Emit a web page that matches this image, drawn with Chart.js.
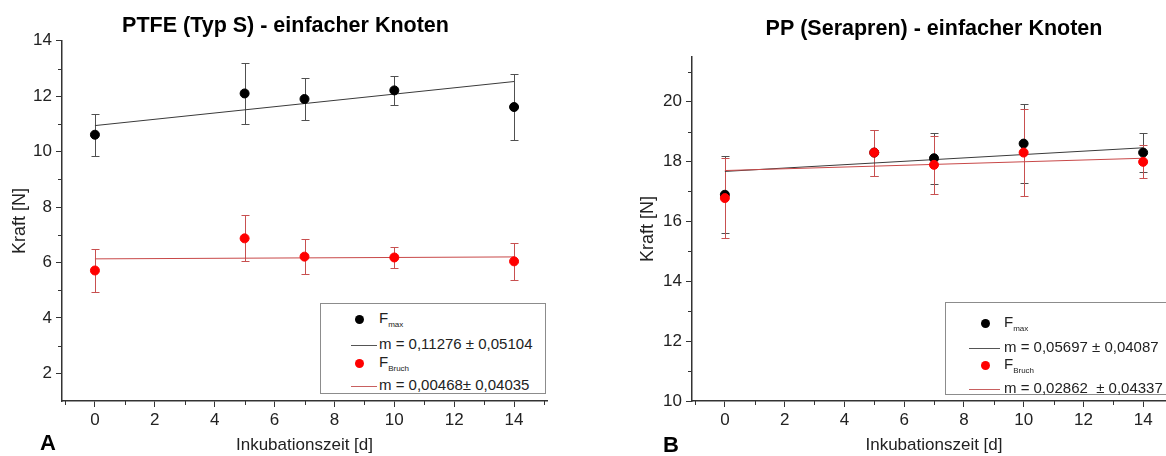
<!DOCTYPE html>
<html>
<head>
<meta charset="utf-8">
<title>Kraft vs Inkubationszeit</title>
<script src="https://cdn.jsdelivr.net/npm/chart.js@4.4.1/dist/chart.umd.min.js"></script>
<style>
html, body { margin: 0; padding: 0; overflow: hidden; background: #fff; }
body { width: 1166px; height: 456px; position: relative; font-family: Arial, "Liberation Sans", sans-serif; color: #222; }
.wrap { position: absolute; top: 0; height: 456px; }
.legend { position: absolute; border: 1px solid #8c8c8c; background: #fff; box-sizing: border-box; }
.legend .dot { position: absolute; width: 9px; height: 9px; border-radius: 50%; }
.legend .ln { position: absolute; height: 0; border-top: 1px solid; }
.legend .txt { position: absolute; font-size: 15px; line-height: 18px; white-space: nowrap; }
.legend sub { font-size: 8px; vertical-align: -4px; }
.panel { position: absolute; font-weight: bold; font-size: 22px; line-height: 24px; color: #000; }
</style>
</head>
<body>

<div class="wrap" style="left:0; width:571px;"><canvas id="chartA" width="571" height="456"></canvas></div>
<div class="wrap" style="left:590px; width:686px;"><canvas id="chartB" width="686" height="456"></canvas></div>

<div class="panel" style="left:40px; top:431px;">A</div>
<div class="panel" style="left:663px; top:433px;">B</div>

<script>
// x values (days) and ticks, shared by both panels
const days = [0, 5, 7, 10, 14]
const fitDays = [0, 14]
const xTickLabels = [0, 2, 4, 6, 8, 10, 12, 14]
const xMinorTicks = [-1, 1, 3, 5, 7, 9, 11, 13, 15]

// A: PTFE (Typ S)
const ptfeMax = [10.61, 12.10, 11.90, 12.21, 11.61]
const ptfeMaxErr = [0.76, 1.10, 0.75, 0.52, 1.20]
const ptfeBruch = [5.71, 6.87, 6.21, 6.18, 6.04]
const ptfeBruchErr = [0.79, 0.83, 0.62, 0.39, 0.68]
const ptfeMaxFit = [10.94, 12.53]
const ptfeBruchFit = [6.13, 6.20]
const ptfeYTicks = [2, 4, 6, 8, 10, 12, 14]
const ptfeYMinor = [3, 5, 7, 9, 11, 13]
const ptfeLegend = ['m = 0,11276 \u00b1 0,05104', 'm = 0,00468\u00b1 0,04035']

// B: PP (Serapren)
const ppMax = [16.89, 18.30, 18.11, 18.60, 18.30]
const ppMaxErr = [1.28, 0.77, 0.86, 1.31, 0.64]
const ppBruch = [16.78, 18.30, 17.89, 18.30, 17.99]
const ppBruchErr = [1.35, 0.77, 0.98, 1.45, 0.55]
const ppMaxFit = [17.67, 18.46]
const ppBruchFit = [17.70, 18.11]
const ppYTicks = [10, 12, 14, 16, 18, 20]
const ppYMinor = [11, 13, 15, 17, 19, 21]
const ppLegend = ['m = 0,05697 \u00b1 0,04087', 'm = 0,02862 \u00a0\u00b1 0,04337']

const FONT = 'Arial, "Liberation Sans", sans-serif'

// vertical error bars with caps, drawn behind the points
const errorBars = {
  id: 'errorBars',
  beforeDatasetsDraw(chart) {
    const ctx = chart.ctx
    const xs = chart.scales.x, ys = chart.scales.y
    chart.data.datasets.forEach(ds => {
      if (!ds.errors) return
      ctx.save()
      ctx.strokeStyle = ds.barColor
      ctx.lineWidth = 1
      ds.data.forEach((p, i) => {
        const px = Math.round(xs.getPixelForValue(p.x)) + 0.5
        const top = Math.round(ys.getPixelForValue(p.y + ds.errors[i])) + 0.5
        const bot = Math.round(ys.getPixelForValue(p.y - ds.errors[i])) + 0.5
        ctx.beginPath()
        ctx.moveTo(px, top); ctx.lineTo(px, bot)
        ctx.moveTo(px - 4, top); ctx.lineTo(px + 4, top)
        ctx.moveTo(px - 4, bot); ctx.lineTo(px + 4, bot)
        ctx.stroke()
      })
      ctx.restore()
    })
  }
}

// short minor ticks between the labelled ones
const minorTicks = {
  id: 'minorTicks',
  afterDraw(chart, args, opts) {
    const {ctx, chartArea, scales} = chart
    ctx.save()
    ctx.strokeStyle = '#333'
    ctx.lineWidth = 1
    ctx.beginPath()
    opts.x.forEach(v => {
      const px = Math.round(scales.x.getPixelForValue(v)) + 0.5
      ctx.moveTo(px, chartArea.bottom); ctx.lineTo(px, chartArea.bottom + 4)
    })
    opts.y.forEach(v => {
      const py = Math.round(scales.y.getPixelForValue(v)) + 0.5
      ctx.moveTo(chartArea.left - 4, py); ctx.lineTo(chartArea.left, py)
    })
    ctx.stroke()
    ctx.restore()
  }
}

function pts(xv, yv) {
  return xv.map((x, i) => ({x: x, y: yv[i]}))
}

function makeChart(id, c) {
  return new Chart(document.getElementById(id), {
    type: 'scatter',
    data: {
      datasets: [
        { type: 'line', data: pts(fitDays, c.maxFit), showLine: true, borderColor: '#3a3a3a', borderWidth: 1, pointRadius: 0, order: 3 },
        { type: 'line', data: pts(fitDays, c.bruchFit), showLine: true, borderColor: '#c84848', borderWidth: 1, pointRadius: 0, order: 2 },
        { data: pts(days, c.max), errors: c.maxErr, barColor: '#505050', backgroundColor: '#000', borderColor: '#000', pointRadius: 4.5, order: 1 },
        { data: pts(days, c.bruch), errors: c.bruchErr, barColor: '#c85050', backgroundColor: '#ff0000', borderColor: '#ff0000', pointRadius: 4.5, order: 0 }
      ]
    },
    options: {
      responsive: false,
      animation: false,
      devicePixelRatio: 1,
      // padding.left also centres the full-size title box where the figure has it
      layout: { padding: { left: c.padLeft, top: 0, right: c.padRight, bottom: 0 } },
      plugins: {
        legend: { display: false },
        tooltip: { enabled: false },
        title: {
          display: true, text: c.title, color: '#000', fullSize: c.titleFull,
          font: { family: FONT, size: 21.5, weight: 'bold', lineHeight: 1.2 },
          padding: { top: c.titleTop, bottom: c.titleBottom }
        },
        minorTicks: { x: xMinorTicks, y: c.yMinor }
      },
      scales: {
        x: {
          type: 'linear', min: -1.1, max: 15.1,
          afterBuildTicks: s => { s.ticks = xTickLabels.map(v => ({value: v})) },
          afterFit: s => { s.height = 55 },
          grid: { drawOnChartArea: false, drawTicks: true, tickLength: 6, tickColor: '#333', tickWidth: 1 },
          border: { color: '#333', width: 1.5 },
          ticks: { color: '#222', font: { family: FONT, size: 17 }, padding: 3, maxRotation: 0, autoSkip: false },
          title: { display: true, text: 'Inkubationszeit [d]', color: '#222', font: { family: FONT, size: 17, lineHeight: 1.2 }, padding: 0 }
        },
        y: {
          type: 'linear', min: c.yMin, max: c.yMax,
          afterBuildTicks: s => { s.ticks = c.yTicks.map(v => ({value: v})) },
          afterFit: s => { s.width = c.yWidth },
          grid: { drawOnChartArea: false, drawTicks: true, tickLength: 6, tickColor: '#333', tickWidth: 1 },
          border: { color: '#333', width: 1.5 },
          ticks: { color: '#222', font: { family: FONT, size: 17 }, padding: 4, autoSkip: false },
          title: { display: true, text: 'Kraft [N]', color: '#222', font: { family: FONT, size: 18, lineHeight: 1.2 }, padding: { top: c.yTitlePad, bottom: 0 } }
        }
      }
    },
    plugins: [errorBars, minorTicks]
  })
}

makeChart('chartA', {
  title: 'PTFE (Typ S) - einfacher Knoten', titleTop: 13, titleBottom: 2, titleFull: true,
  max: ptfeMax, maxErr: ptfeMaxErr, bruch: ptfeBruch, bruchErr: ptfeBruchErr,
  maxFit: ptfeMaxFit, bruchFit: ptfeBruchFit,
  yMin: 1, yMax: 14, yTicks: ptfeYTicks, yMinor: ptfeYMinor,
  padLeft: 24, yWidth: 38, yTitlePad: -15, padRight: 24
})

makeChart('chartB', {
  title: 'PP (Serapren) - einfacher Knoten', titleTop: 16, titleBottom: 15, titleFull: false,
  max: ppMax, maxErr: ppMaxErr, bruch: ppBruch, bruchErr: ppBruchErr,
  maxFit: ppMaxFit, bruchFit: ppBruchFit,
  yMin: 10, yMax: 21.5, yTicks: ppYTicks, yMinor: ppYMinor,
  padLeft: 0, yWidth: 102, yTitlePad: 47, padRight: 100
})

// legends: box position, row centres, marker x, line span, text start
function makeLegend(box, texts) {
  const el = document.createElement('div')
  el.className = 'legend'
  el.style.cssText = `left:${box.left}px; top:${box.top}px; width:${box.w}px; height:${box.h}px;`
  const rows = [
    {kind: 'dot', color: '#000', label: 'F<sub>max</sub>'},
    {kind: 'ln', color: '#555', label: texts[0]},
    {kind: 'dot', color: '#ff0000', label: 'F<sub>Bruch</sub>'},
    {kind: 'ln', color: '#c86060', label: texts[1]}
  ]
  rows.forEach((r, i) => {
    const cy = box.rows[i]
    const m = document.createElement('div')
    if (r.kind === 'dot') {
      m.className = 'dot'
      m.style.cssText = `left:${box.dotX - 4.5}px; top:${cy - 4.5}px; background:${r.color};`
    } else {
      m.className = 'ln'
      m.style.cssText = `left:${box.lnFrom}px; width:${box.lnTo - box.lnFrom}px; top:${cy}px; border-color:${r.color};`
    }
    el.appendChild(m)
    const t = document.createElement('div')
    t.className = 'txt'
    t.style.cssText = `left:${box.textX}px; top:${cy - 10}px;`
    t.innerHTML = r.label
    el.appendChild(t)
  })
  document.body.appendChild(el)
}

makeLegend({left: 320, top: 303, w: 226, h: 91, rows: [15, 41, 59, 82], dotX: 38, lnFrom: 30, lnTo: 56, textX: 58}, ptfeLegend)
makeLegend({left: 945, top: 302, w: 230, h: 93, rows: [20, 45, 62, 86], dotX: 39, lnFrom: 23, lnTo: 54, textX: 58}, ppLegend)
</script>
</body>
</html>
